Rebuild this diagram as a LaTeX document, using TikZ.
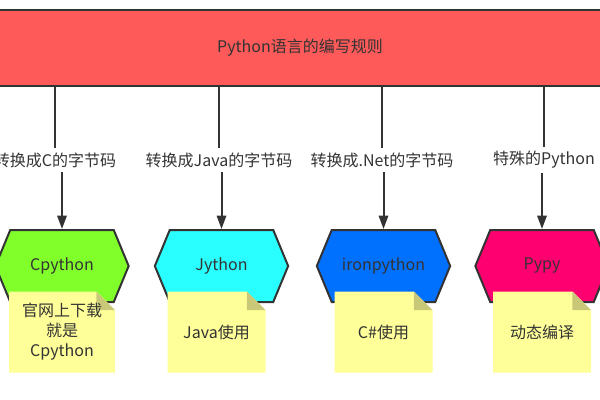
\documentclass[tikz,border=0pt]{standalone}
\usepackage{fontspec}
\setmainfont{Noto Sans CJK SC}
\usepackage{tikz}
\usetikzlibrary{arrows.meta,positioning,shapes.symbols}
\definecolor{barred}{HTML}{FF5A5A}
\definecolor{cgreen}{HTML}{80FF2A}
\definecolor{jcyan}{HTML}{2AFFFF}
\definecolor{iblue}{HTML}{0070FF}
\definecolor{ppink}{HTML}{FF0070}
\definecolor{notey}{HTML}{FFFF99}
\definecolor{notefold}{HTML}{C8C878}
\definecolor{inkgray}{HTML}{333333}

\begin{document}
\begin{tikzpicture}[x=0.75pt,y=-0.75pt,
    font=\fontsize{12}{15}\selectfont, text=inkgray,
    hexa/.style={signal, signal to=west and east, signal pointer angle=135,
      draw=inkgray, line width=1.5pt, minimum width=100pt, minimum height=54pt, inner sep=0pt},
    note/.style={minimum height=60.75pt, align=center, inner sep=0pt,
      path picture={
        \fill[notey] (path picture bounding box.south west) -- (path picture bounding box.north west)
          -- ([xshift=-14pt]path picture bounding box.north east)
          -- ([yshift=-14pt]path picture bounding box.north east)
          -- (path picture bounding box.south east) -- cycle;
        \fill[notefold] ([xshift=-14pt]path picture bounding box.north east)
          -- ([yshift=-14pt]path picture bounding box.north east)
          -- ([xshift=-14pt,yshift=-14pt]path picture bounding box.north east) -- cycle;
      }},
    line/.style={draw=inkgray, line width=1.5pt},
    arr/.style={line, -{Triangle[length=10pt,width=7pt]}}]
  \clip (0,0) rectangle (600,400);

  \node[fill=barred, draw=inkgray, line width=1.5pt, minimum width=465pt, minimum height=57pt] (bar) at (300,48) {Python语言的编写规则};

  % labels on the connectors
  \node (lab1) at (55,160) {转换成C的字节码};
  \node (lab2) at (219,160) {转换成Java的字节码};
  \node (lab3) at (382,160) {转换成.Net的字节码};
  \node (lab4) at (544,160) {特殊的Python};

  % implementations
  \node[hexa, fill=cgreen] (cpy) at (62,266) {Cpython};
  \node[hexa, fill=jcyan] (jpy) at (221.5,266) {Jython};
  \node[hexa, fill=iblue] (ipy) at (383.5,266) {ironpython};
  \node[hexa, fill=ppink] (ppy) at (542,266) {Pypy};

  \draw[line] (bar.south -| lab1) -- (lab1.north);
  \draw[line] (bar.south -| lab2) -- (lab2.north);
  \draw[line] (bar.south -| lab3) -- (lab3.north);
  \draw[line] (bar.south -| lab4) -- (lab4.north);
  \draw[arr] (lab1.south -| cpy) -- (cpy.north);
  \draw[arr] (lab2.south -| jpy) -- (jpy.north);
  \draw[arr] (lab3.south -| ipy) -- (ipy.north);
  \draw[arr] (lab4.south -| ppy) -- (ppy.north);

  % notes
  \node[note, minimum width=79.5pt] (n1) at (62,332) {官网上下载\\就是\\Cpython};
  \node[note, minimum width=73.5pt] (n2) at (216.5,332) {Java使用};
  \node[note, minimum width=73.5pt] (n3) at (383.5,332) {C\#使用};
  \node[note, minimum width=73.5pt] (n4) at (542,332) {动态编译};
\end{tikzpicture}
\end{document}
